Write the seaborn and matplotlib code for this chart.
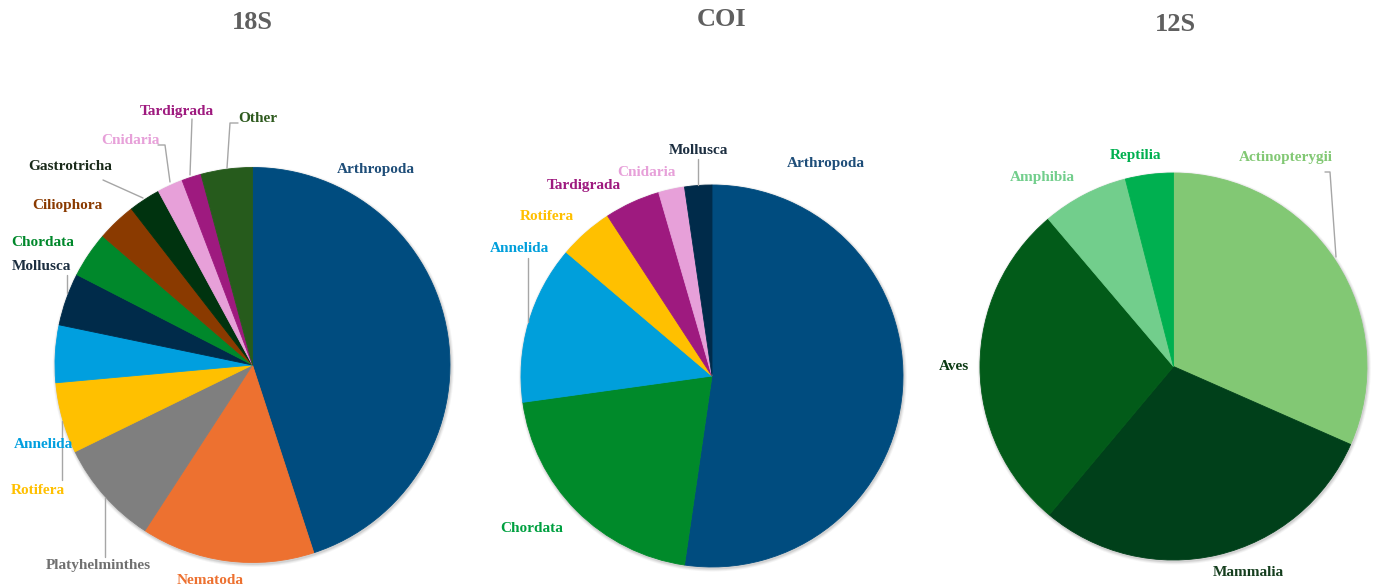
import matplotlib
matplotlib.use("Agg")
import matplotlib.pyplot as plt
import seaborn as sns
from matplotlib.patches import Circle

sns.set_theme(style="white")
plt.rcParams['font.family'] = ['Liberation Serif', 'DejaVu Serif']

W, H = 1373, 587

# ---------------- data ----------------
cat_18s = ["Arthropoda", "Nematoda", "Platyhelminthes", "Rotifera", "Annelida", "Mollusca",
           "Chordata", "Ciliophora", "Gastrotricha", "Cnidaria", "Tardigrada", "Other"]
val_18s = [45.0, 14.2, 8.6, 5.8, 4.7, 4.3, 3.75, 3.2, 2.6, 2.1, 1.6, 4.2]

cat_coi = ["Arthropoda", "Chordata", "Annelida", "Rotifera", "Tardigrada", "Cnidaria", "Mollusca"]
val_coi = [52.3, 20.5, 13.4, 4.6, 4.7, 2.2, 2.3]

cat_12s = ["Actinopterygii", "Mammalia", "Aves", "Amphibia", "Reptilia"]
val_12s = [31.6, 29.5, 27.7, 7.2, 4.0]

titles = ["18S", "COI", "12S"]

# ---------------- styles ----------------
col_18s = ["#004C7F", "#ED7130", "#7F7F7F", "#FFC000", "#009FDF", "#002B4A",
           "#00882B", "#8A3A00", "#00330F", "#E7A0D9", "#9E1A7F", "#265B1C"]
lab_18s = ["#1F4E79", "#ED7130", "#707070", "#FFC000", "#009FDF", "#1C2E40",
           "#00882B", "#8A3A00", "#1A2A1A", "#E7A0D9", "#9E1A7F", "#2E5A1E"]
col_coi = ["#004C7F", "#008A2A", "#009FDB", "#FFC000", "#9E1A7F", "#E7A0D9", "#002B4A"]
lab_coi = ["#1F4E79", "#00A040", "#009FDB", "#FFC000", "#9E1A7F", "#E7A0D9", "#1C2E40"]
col_12s = ["#82C874", "#00401A", "#025B19", "#72CE8C", "#00B050"]
lab_12s = ["#82C874", "#163F1F", "#0B3A13", "#72CE8C", "#00B050"]

# pie geometry (image pixel coords: x, y from top, radius)
geom = [(252.5, 365, 197.5), (712, 376, 191), (1173.5, 366.5, 193.5)]
title_pos = [(252, 22.5), (722, 19.5), (1175, 24.5)]

pos_18s = [(376, 169), (210, 580), (98, 565), (38, 491), (43, 445), (41, 267),
           (43, 243), (67, 206), (70, 167), (130, 140), (177, 112), (258, 118)]
pos_coi = [(826, 163), (532, 529), (519, 248), (547, 217), (584, 185), (646, 172), (698, 151)]
pos_12s = [(1286, 157), (1248, 573), (954, 367), (1042, 177), (1136, 156)]

leaders = [
    [(238, 123), (230, 123), (227, 168)],
    [(192, 119), (190, 175)],
    [(158, 145), (165, 145), (170, 182)],
    [(103, 180), (143, 198)],
    [(67, 275), (67, 293)],
    [(62, 421), (62, 480)],
    [(105, 498), (105, 557)],
    [(698, 159), (698, 185)],
    [(528, 258), (528, 322)],
    [(1325, 172), (1330, 172), (1336, 257)],
]

fig = plt.figure(figsize=(W / 100, H / 100), dpi=100)
ax = fig.add_axes([0, 0, 1, 1])

def Y(y):
    return H - y

datasets = [(val_18s, cat_18s, col_18s, lab_18s, pos_18s),
            (val_coi, cat_coi, col_coi, lab_coi, pos_coi),
            (val_12s, cat_12s, col_12s, lab_12s, pos_12s)]

for (vals, cats, cols, labcols, poss), (cx, cy, r), title, tp in zip(datasets, geom, titles, title_pos):
    # soft shadow
    for dr, a in [(3.0, 0.10), (2.0, 0.15), (1.0, 0.25)]:
        ax.add_patch(Circle((cx + 0.8, Y(cy) - 1.5), r + dr, color="#9a9a9a", alpha=a, lw=0, zorder=0))
    wedges, _ = ax.pie(vals, colors=cols, startangle=90, counterclock=False,
                       center=(cx, Y(cy)), radius=r, frame=True,
                       wedgeprops=dict(linewidth=0.6))
    for w in wedges:
        w.set_edgecolor(w.get_facecolor())
    for name, (x, y), c in zip(cats, poss, labcols):
        ax.text(x, Y(y), name, ha='center', va='center', fontsize=11,
                fontweight='bold', color=c, zorder=5)
    ax.text(tp[0], Y(tp[1]), title, ha='center', va='center', fontsize=19,
            fontweight='bold', color="#5f5f5f")

for pts in leaders:
    xs = [p[0] for p in pts]
    ys = [Y(p[1]) for p in pts]
    ax.plot(xs, ys, color="#A6A6A6", lw=1.0, zorder=4)

ax.set_xlim(0, W)
ax.set_ylim(0, H)
ax.set_aspect('equal')
ax.axis('off')
fig.savefig("out.png", dpi=100)
